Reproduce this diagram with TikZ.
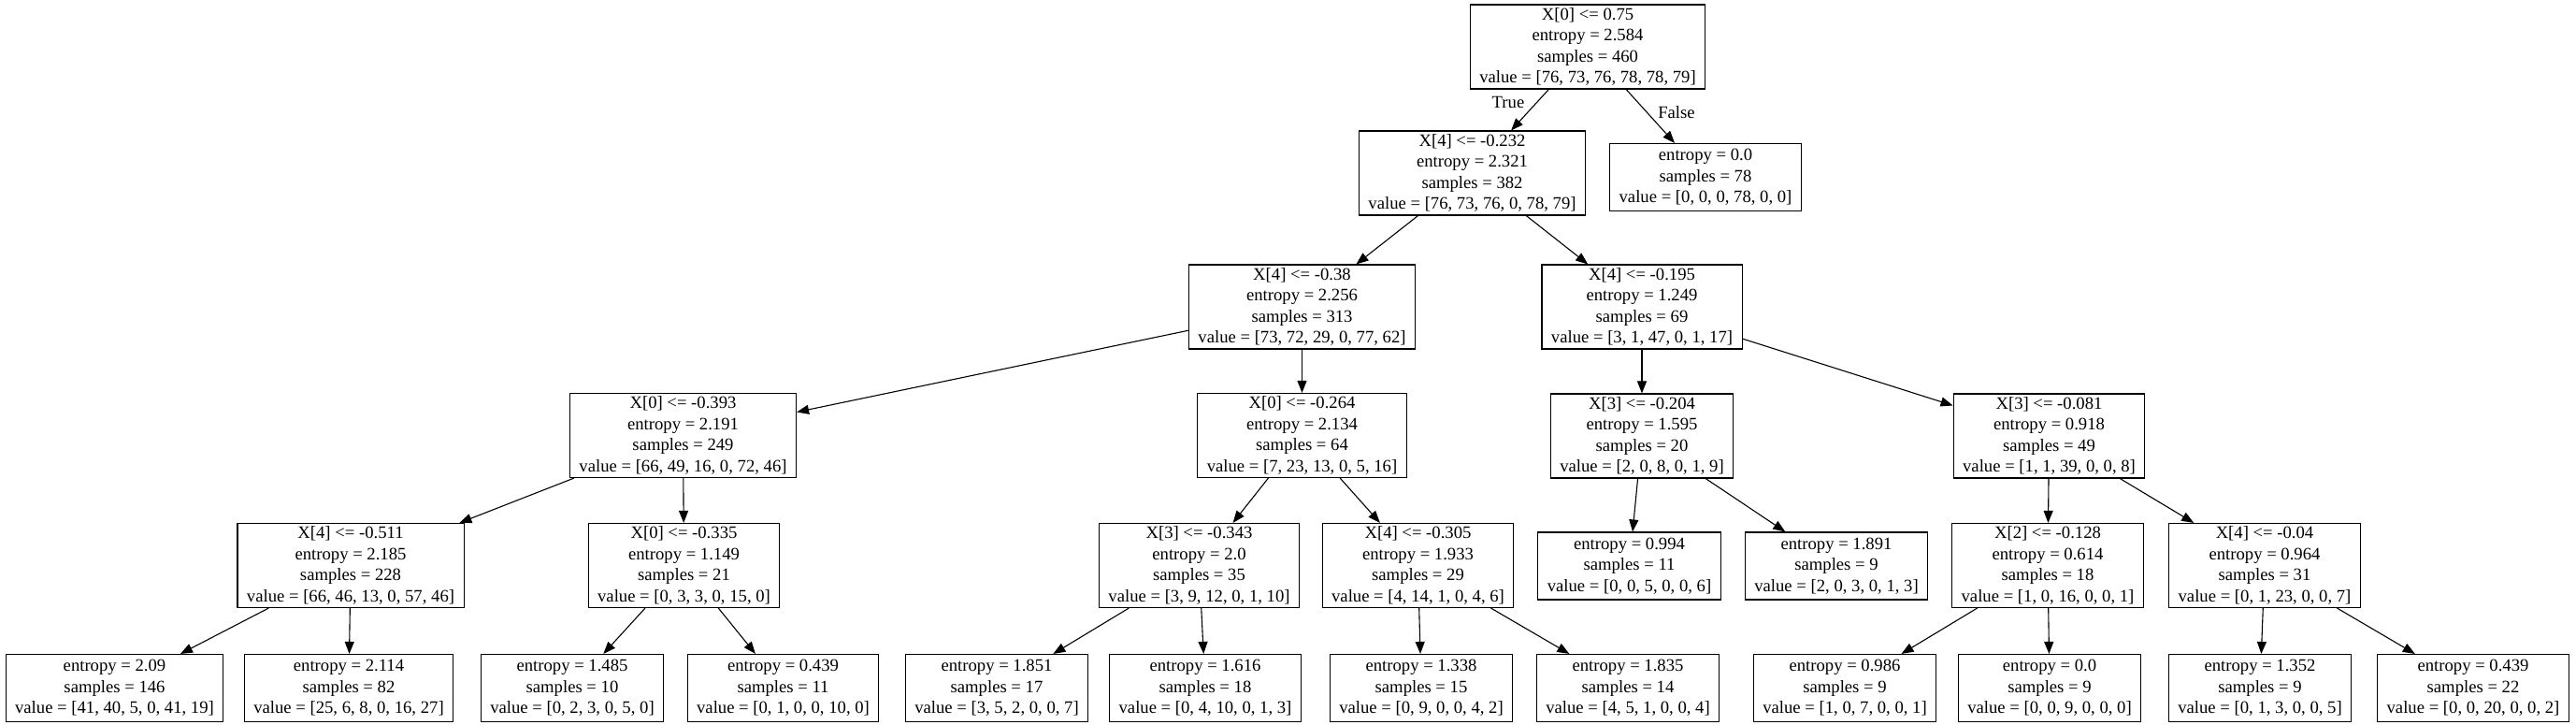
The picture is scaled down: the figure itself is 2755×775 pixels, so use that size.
\documentclass[tikz,border=0pt]{standalone}
\usepackage{fontspec}
\setmainfont{Liberation Serif}
\usetikzlibrary{arrows.meta}
\begin{document}
\begin{tikzpicture}[x=1pt,y=-1pt,
  tn/.style={draw, rectangle, line width=1.1pt, align=center, inner xsep=10pt, inner ysep=0pt,
    font=\fontsize{18.67}{22.4}\selectfont},
  split/.style={tn, minimum height=90pt},
  leaf/.style={tn, minimum height=72pt},
  edge/.style={line width=1.1pt, -{Triangle[length=13pt,width=10pt]}},
  lab/.style={font=\fontsize{18.67}{22.4}\selectfont, inner sep=0pt}]
\useasboundingbox (0,0) rectangle (2755,775);
% level 0
\node[split] (n0) at (1698,50) {X[0] <= 0.75\\entropy = 2.584\\samples = 460\\value = [76, 73, 76, 78, 78, 79]};
% level 1
\node[split] (n1) at (1574.5,185) {X[4] <= -0.232\\entropy = 2.321\\samples = 382\\value = [76, 73, 76, 0, 78, 79]};
\node[leaf] (lF) at (1824,189.5) {entropy = 0.0\\samples = 78\\value = [0, 0, 0, 78, 0, 0]};
% level 2
\node[split] (n2) at (1392.5,328) {X[4] <= -0.38\\entropy = 2.256\\samples = 313\\value = [73, 72, 29, 0, 77, 62]};
\node[split] (n3) at (1756,328) {X[4] <= -0.195\\entropy = 1.249\\samples = 69\\value = [3, 1, 47, 0, 1, 17]};
% level 3
\node[split] (n4) at (730.5,465.5) {X[0] <= -0.393\\entropy = 2.191\\samples = 249\\value = [66, 49, 16, 0, 72, 46]};
\node[split] (n5) at (1392.5,465.5) {X[0] <= -0.264\\entropy = 2.134\\samples = 64\\value = [7, 23, 13, 0, 5, 16]};
\node[split] (n6) at (1756,466) {X[3] <= -0.204\\entropy = 1.595\\samples = 20\\value = [2, 0, 8, 0, 1, 9]};
\node[split] (n7) at (2191.5,466) {X[3] <= -0.081\\entropy = 0.918\\samples = 49\\value = [1, 1, 39, 0, 0, 8]};
% level 4
\node[split] (n8) at (375,604.5) {X[4] <= -0.511\\entropy = 2.185\\samples = 228\\value = [66, 46, 13, 0, 57, 46]};
\node[split] (n9) at (731.5,604.5) {X[0] <= -0.335\\entropy = 1.149\\samples = 21\\value = [0, 3, 3, 0, 15, 0]};
\node[split] (n10) at (1282.5,604.5) {X[3] <= -0.343\\entropy = 2.0\\samples = 35\\value = [3, 9, 12, 0, 1, 10]};
\node[split] (n11) at (1516.5,604.5) {X[4] <= -0.305\\entropy = 1.933\\samples = 29\\value = [4, 14, 1, 0, 4, 6]};
\node[leaf] (l6a) at (1742.5,605) {entropy = 0.994\\samples = 11\\value = [0, 0, 5, 0, 0, 6]};
\node[leaf] (l6b) at (1964,605) {entropy = 1.891\\samples = 9\\value = [2, 0, 3, 0, 1, 3]};
\node[split] (n12) at (2190,604.5) {X[2] <= -0.128\\entropy = 0.614\\samples = 18\\value = [1, 0, 16, 0, 0, 1]};
\node[split] (n13) at (2422,604.5) {X[4] <= -0.04\\entropy = 0.964\\samples = 31\\value = [0, 1, 23, 0, 0, 7]};
% level 5
\node[leaf] (l8a) at (122.5,735.5) {entropy = 2.09\\samples = 146\\value = [41, 40, 5, 0, 41, 19]};
\node[leaf] (l8b) at (373,735.5) {entropy = 2.114\\samples = 82\\value = [25, 6, 8, 0, 16, 27]};
\node[leaf] (l9a) at (612,735.5) {entropy = 1.485\\samples = 10\\value = [0, 2, 3, 0, 5, 0]};
\node[leaf] (l9b) at (837.5,735.5) {entropy = 0.439\\samples = 11\\value = [0, 1, 0, 0, 10, 0]};
\node[leaf] (l10a) at (1066,735.5) {entropy = 1.851\\samples = 17\\value = [3, 5, 2, 0, 0, 7]};
\node[leaf] (l10b) at (1289,735.5) {entropy = 1.616\\samples = 18\\value = [0, 4, 10, 0, 1, 3]};
\node[leaf] (l11a) at (1520,735.5) {entropy = 1.338\\samples = 15\\value = [0, 9, 0, 0, 4, 2]};
\node[leaf] (l11b) at (1741,735.5) {entropy = 1.835\\samples = 14\\value = [4, 5, 1, 0, 0, 4]};
\node[leaf] (l12a) at (1973,735.5) {entropy = 0.986\\samples = 9\\value = [1, 0, 7, 0, 0, 1]};
\node[leaf] (l12b) at (2192,735.5) {entropy = 0.0\\samples = 9\\value = [0, 0, 9, 0, 0, 0]};
\node[leaf] (l13a) at (2417,735.5) {entropy = 1.352\\samples = 9\\value = [0, 1, 3, 0, 0, 5]};
\node[leaf] (l13b) at (2645,735.5) {entropy = 0.439\\samples = 22\\value = [0, 0, 20, 0, 0, 2]};
% edges
\draw[edge] (n0) -- (n1);
\draw[edge] (n0) -- (lF);
\node[lab] (tT) at (1613,109) {True};
\node[lab] (tF) at (1793,120) {False};
\draw[edge] (n1) -- (n2);
\draw[edge] (n1) -- (n3);
\draw[edge] (n2) -- (n4);
\draw[edge] (n2) -- (n5);
\draw[edge] (n3) -- (n6);
\draw[edge] (n3) -- (n7);
\draw[edge] (n4) -- (n8);
\draw[edge] (n4) -- (n9);
\draw[edge] (n5) -- (n10);
\draw[edge] (n5) -- (n11);
\draw[edge] (n6) -- (l6a);
\draw[edge] (n6) -- (l6b);
\draw[edge] (n7) -- (n12);
\draw[edge] (n7) -- (n13);
\draw[edge] (n8) -- (l8a);
\draw[edge] (n8) -- (l8b);
\draw[edge] (n9) -- (l9a);
\draw[edge] (n9) -- (l9b);
\draw[edge] (n10) -- (l10a);
\draw[edge] (n10) -- (l10b);
\draw[edge] (n11) -- (l11a);
\draw[edge] (n11) -- (l11b);
\draw[edge] (n12) -- (l12a);
\draw[edge] (n12) -- (l12b);
\draw[edge] (n13) -- (l13a);
\draw[edge] (n13) -- (l13b);
\end{tikzpicture}
\end{document}
